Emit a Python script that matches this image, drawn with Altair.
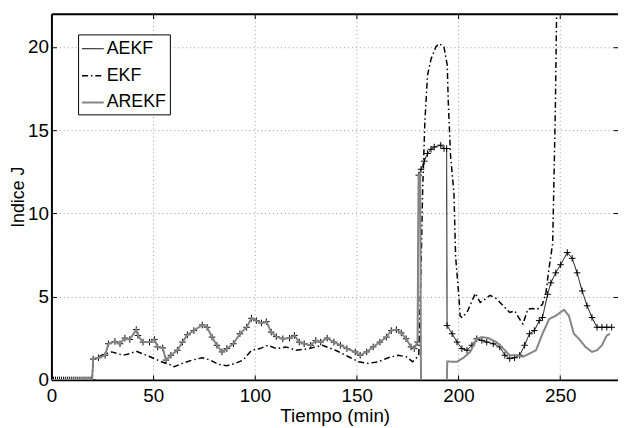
import altair as alt
import pandas as pd

# ---------------- data ----------------
series_names = ["AEKF", "EKF", "AREKF"]
series_colors = ["#000000", "#000000", "#858585"]

# flat start (all filters at zero before t = 20 min)
zero_x = [0, 1, 2, 3, 4, 5, 6, 7, 8, 9, 10, 11, 12, 13, 14, 15, 16, 17, 18, 19, 20]
zero_y = [0, 0, 0, 0, 0, 0, 0, 0, 0, 0, 0, 0, 0, 0, 0, 0, 0, 0, 0, 0, 0]

# segment where AEKF and AREKF coincide (20 .. 180 min)
common_x = [20.5, 23.1, 26.4, 28.0, 31.2, 33.7, 36.1, 38.5, 41.7, 42.5, 45.0, 48.2,
            50.6, 52.2, 54.7, 56.3, 58.7, 61.9, 64.4, 66.8, 70.0, 74.1, 76.5, 78.9,
            81.3, 83.8, 86.2, 89.4, 92.6, 95.9, 98.3, 100.7, 103.2, 105.6, 108.0,
            110.5, 113.7, 117.0, 119.4, 121.8, 124.2, 127.4, 129.9, 132.3, 135.5,
            138.8, 142.0, 145.2, 149.3, 151.7, 154.9, 158.1, 161.4, 164.6, 167.0,
            169.5, 171.9, 174.3, 176.7, 178.3, 179.9]
common_y = [1.25, 1.33, 1.48, 2.17, 2.31, 2.17, 2.51, 2.43, 3.02, 2.67, 2.27, 2.27,
            2.43, 1.98, 1.92, 1.19, 1.48, 1.78, 2.27, 2.71, 2.96, 3.30, 3.16, 2.57,
            2.08, 1.68, 1.88, 2.17, 2.77, 3.16, 3.70, 3.56, 3.42, 3.50, 2.87,
            2.60, 2.47, 2.51, 2.67, 2.27, 2.17, 2.08, 2.37, 2.27, 2.51,
            2.27, 2.08, 1.88, 1.68, 1.48, 1.68, 1.98, 2.27, 2.57, 2.96,
            3.02, 2.82, 2.47, 1.98, 1.88, 2.27]

aekf_tail_x = [180.5, 181.6, 183.2, 184.8, 186.5, 188.1, 191.3, 192.9, 194.2, 194.4,
               196.9, 199.3, 201.7, 204.2, 206.6, 209.0, 211.5, 213.9, 217.1, 220.3,
               222.8, 225.2, 227.6, 230.1, 232.5, 234.9, 237.3, 239.7, 241.3, 243.8,
               245.4, 247.8, 250.2, 253.5, 255.9, 258.3, 260.8, 263.2, 265.6, 268.1,
               270.5, 272.9, 275.3]
aekf_tail_y = [12.3, 12.65, 13.14, 13.6, 13.85, 13.99, 14.1, 13.9, 13.9, 3.26,
               2.77, 2.27, 1.88, 1.78, 2.08, 2.47, 2.37, 2.27, 2.17, 1.98,
               1.48, 1.28, 1.33, 1.48, 2.08, 2.77, 2.96, 3.56, 3.75, 5.14,
               5.83, 6.43, 6.92, 7.65, 7.30, 6.43, 5.34, 4.45, 3.75, 3.16,
               3.16, 3.16, 3.16]

arekf_tail_x = [180.4, 181.2, 181.6, 194.3, 194.5, 199.3, 202.5, 205.8, 209.0, 211.5,
                214.7, 218.7, 222.0, 225.2, 228.4, 231.7, 234.9, 238.1, 239.7, 241.3,
                244.6, 247.8, 251.9, 254.3, 256.7, 259.2, 262.4, 265.6, 268.1, 270.5,
                272.9, 274.5]
arekf_tail_y = [12.3, 12.4, 0.0, 0.0, 1.1, 1.09, 1.33, 1.68, 2.47, 2.57,
                2.51, 2.27, 1.88, 1.48, 1.48, 1.39, 1.58, 1.78, 2.27, 2.77,
                3.66, 3.85, 4.21, 3.85, 2.77, 2.47, 1.98, 1.68, 1.78, 2.08,
                2.67, 2.77]

ekf_x = [0, 20, 20.5, 24.7, 29.6, 35.3, 38.5, 41.7, 46.6, 50.6, 54.0, 58.0, 60.3,
         64.4, 69.2, 74.1, 78.1, 82.1, 86.2, 90.2, 94.2, 98.3, 102.4, 106.4, 110.5,
         115.3, 120.2, 126.6, 133.1, 139.6, 146.0, 150.9, 155.7, 160.6, 165.5, 170.3,
         174.3, 177.5, 179.1, 180.5, 181.5, 182.4, 183.5, 184.8, 186.5, 188.9, 190.5,
         192.9, 194.5, 195.0, 196.1, 197.8, 198.6, 200.2, 200.8, 201.7, 204.2, 208.3,
         210.7, 213.1, 215.5, 218.7, 222.0, 225.2, 227.6, 230.0, 231.7, 234.1, 236.5,
         238.9, 241.3, 243.0, 244.2, 246.3, 247.6, 248.2, 249.0, 252.0]
ekf_y = [0, 0, 1.19, 1.48, 1.68, 1.48, 1.58, 1.72, 1.48, 1.28, 1.09, 0.93, 0.79,
         0.99, 1.19, 1.33, 1.19, 0.93, 0.85, 0.99, 1.19, 1.78, 1.88, 2.08, 1.88,
         1.98, 1.78, 1.88, 2.08, 1.78, 1.39, 1.09, 0.99, 1.09, 1.33, 1.48,
         1.39, 1.09, 1.28, 1.5, 6.0, 11.35, 15.5, 18.3, 19.26, 20.0, 20.2,
         20.0, 18.9, 16.7, 13.5, 11.2, 7.41, 5.04, 3.85, 3.75, 4.05, 5.2,
         4.65, 4.85, 5.08, 4.88, 4.45, 4.05, 4.15, 3.66, 3.36, 4.25, 4.29,
         4.25, 4.55, 5.24, 6.43, 8.2, 16.1, 21.8, 26.0, 34.0]

x_ticks = [0, 50, 100, 150, 200, 250]
y_ticks = [0, 5, 10, 15, 20]

# ---------------- table ----------------
rows = []
def add(name, xs, ys):
    for x, y in zip(xs, ys):
        rows.append({"series": name, "x": x, "y": y, "i": len(rows)})

add("AEKF", zero_x + common_x + aekf_tail_x, zero_y + common_y + aekf_tail_y)
add("EKF", ekf_x, ekf_y)
add("AREKF", [0, 20] + common_x + arekf_tail_x, [0, 0] + common_y + arekf_tail_y)
df = pd.DataFrame(rows)

FONT = "Liberation Sans"
FS = 19
xscale = alt.Scale(domain=[0, 278.4], nice=False, zero=False)
yscale = alt.Scale(domain=[0, 22], nice=False)

legend = alt.Legend(title=None, orient="none", legendX=27, legendY=21,
                    symbolType="stroke", symbolSize=484, labelFont=FONT,
                    labelFontSize=18, labelColor="black", strokeColor="black",
                    fillColor="white", padding=3, rowPadding=6, labelOffset=2)

color_enc = alt.Color("series:N", scale=alt.Scale(domain=series_names, range=series_colors),
                      legend=legend)
dash_enc = alt.StrokeDash("series:N", scale=alt.Scale(
    domain=series_names, range=[[1, 0], [6, 3, 1.5, 3], [1, 0]]), legend=legend)
width_enc = alt.StrokeWidth("series:N", scale=alt.Scale(
    domain=series_names, range=[1, 2, 2.6]), legend=legend)

main_x_axis = alt.Axis(
    orient="bottom", values=x_ticks, domainColor="black", domainWidth=2,
    ticks=False, tickSize=0, grid=True, gridColor="#9a9a9a", gridDash=[1, 3],
    gridWidth=1, labelFont=FONT, labelFontSize=FS, labelColor="black",
    labelPadding=7, labelFlush=False, title="Tiempo (min)", titleFont=FONT,
    titleFontSize=FS, titleFontWeight="normal", titleColor="black",
    titlePadding=1)
main_y_axis = alt.Axis(
    orient="left", values=y_ticks, domainColor="black", domainWidth=2,
    ticks=False, tickSize=0, grid=True, gridColor="#9a9a9a", gridDash=[1, 3],
    gridWidth=1, labelFont=FONT, labelFontSize=FS, labelColor="black",
    labelPadding=3, title="Indice J", titleFont=FONT, titleFontSize=18,
    titleFontWeight="normal", titleColor="black", titlePadding=0)


def series_line(name, xaxis=None, yaxis=None):
    return alt.Chart(df).transform_filter(alt.datum.series == name).mark_line(clip=True).encode(
        x=alt.X("x:Q", scale=xscale, axis=xaxis),
        y=alt.Y("y:Q", scale=yscale, axis=yaxis),
        color=color_enc, strokeDash=dash_enc, strokeWidth=width_enc,
        order=alt.Order("i:Q"),
    )

aekf_line = series_line("AEKF", main_x_axis, main_y_axis)
ekf_line = series_line("EKF")
arekf_line = series_line("AREKF")

plus = alt.Chart(df).transform_filter(alt.datum.series == "AEKF").mark_point(
    shape="M-1,0L1,0M0,-1L0,1", size=44, filled=False, color="black",
    strokeWidth=1, opacity=1, clip=True,
).encode(
    x=alt.X("x:Q", scale=xscale, axis=None),
    y=alt.Y("y:Q", scale=yscale, axis=None),
)


def tick_axis(orient, values, offset, domain=False, ticks=True):
    return alt.Axis(orient=orient, values=values, offset=offset, domain=domain,
                    domainColor="black", domainWidth=2, ticks=ticks, tickSize=5,
                    tickColor="black", tickWidth=1, labels=False, grid=False, title=None)

frame_src = alt.Chart(df).transform_filter(alt.datum.series == "AEKF").mark_point(opacity=0)
frame_a = frame_src.encode(
    x=alt.X("x:Q", scale=xscale, axis=tick_axis("top", x_ticks, 0, domain=True, ticks=False)),
    y=alt.Y("y:Q", scale=yscale, axis=tick_axis("right", y_ticks, -5)),
)
frame_b = frame_src.encode(
    x=alt.X("x:Q", scale=xscale, axis=tick_axis("bottom", x_ticks, -5)),
    y=alt.Y("y:Q", scale=yscale, axis=tick_axis("left", y_ticks, -5)),
)
frame_c = frame_src.encode(
    x=alt.X("x:Q", scale=xscale, axis=tick_axis("top", x_ticks, -5)),
    y=alt.Y("y:Q", scale=yscale, axis=None),
)

chart = alt.layer(aekf_line, plus, ekf_line, arekf_line, frame_a, frame_b, frame_c).resolve_axis(
    x="independent", y="independent"
).properties(
    width=574, height=371,
    autosize=alt.AutoSizeParams(type="none"),
    padding={"left": 44, "top": 3, "right": 0, "bottom": 46},
    background="white",
).configure_view(strokeWidth=0)

chart.save("out.html", embed_options={"renderer": "svg", "actions": False})
